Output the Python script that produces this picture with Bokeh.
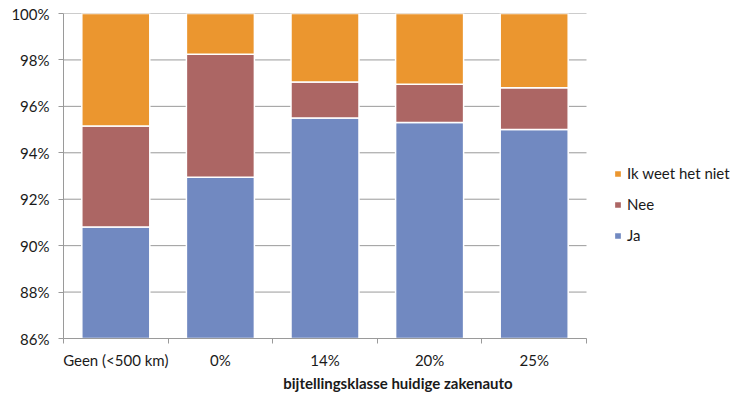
from bokeh.plotting import figure
from bokeh.models import (ColumnDataSource, FixedTicker, Legend, LegendItem,
                          PrintfTickFormatter, Range1d)
from bokeh.embed import file_html
from bokeh.resources import INLINE

# Share of answers per company-car tax class (percent)
categories = ["Geen (<500 km)", "0%", "14%", "20%", "25%"]
ja = [90.8, 92.95, 95.5, 95.3, 95.0]
nee = [4.35, 5.3, 1.55, 1.65, 1.8]
weet_niet = [4.85, 1.75, 2.95, 3.05, 3.2]
series_names = ["Ja", "Nee", "Ik weet het niet"]
y_ticks = [86, 88, 90, 92, 94, 96, 98, 100]

colors = ["#7189C1", "#AC6664", "#EB962F"]
GRID = "#9a9a9a"
FONT = "Lato"
FS = "15px"

n = len(categories)
centers = [i + 0.5 for i in range(n)]
source = ColumnDataSource(dict(x=centers, ja=ja, nee=nee, weet_niet=weet_niet))

# The frame runs to the right edge so the legend can sit beside the bars;
# the bars themselves occupy x in [0, n] (523 px of the 669 px frame).
LEFT, BOTTOM, TOP = 63, 54, 13
frame_w = 732 - LEFT
x_end = n * frame_w / 523.0

p = figure(width=732, height=394, output_backend="svg", toolbar_location=None,
           x_range=Range1d(0, x_end), y_range=Range1d(86, 100),
           min_border_left=LEFT, min_border_right=0, min_border_top=TOP,
           min_border_bottom=BOTTOM)
p.outline_line_color = None
p.background_fill_color = "white"
p.xgrid.visible = False
p.ygrid.visible = False

# horizontal gridlines only across the bar area
p.segment(x0=[0] * len(y_ticks), x1=[n] * len(y_ticks), y0=y_ticks, y1=y_ticks,
          line_color=GRID, line_width=1)

renderers = p.vbar_stack(["ja", "nee", "weet_niet"], x="x", width=0.65,
                         color=colors, line_color="white", line_width=1.5,
                         source=source)

# x axis: ticks between categories, labels at bar centres
xa = p.xaxis[0]
xa.bounds = (0, n)
xa.ticker = FixedTicker(ticks=centers, minor_ticks=list(range(n + 1)))
xa.major_label_overrides = {c: name for c, name in zip(centers, categories)}
xa.major_tick_line_color = None
xa.minor_tick_out = 5
xa.minor_tick_in = 0
xa.minor_tick_line_color = GRID
xa.axis_line_color = GRID
xa.major_label_text_font = FONT
xa.major_label_text_font_size = FS
xa.major_label_text_color = "#1a1a1a"
xa.major_label_standoff = 6
xa.axis_label = "bijtellingsklasse huidige zakenauto"
xa.axis_label_text_font = FONT
xa.axis_label_text_font_style = "bold"
xa.axis_label_text_font_size = FS
xa.axis_label_text_color = "#1a1a1a"
xa.axis_label_standoff = 2

ya = p.yaxis[0]
ya.ticker = FixedTicker(ticks=y_ticks)
ya.formatter = PrintfTickFormatter(format="%d%%")
ya.major_tick_out = 5
ya.major_tick_in = 0
ya.minor_tick_line_color = None
ya.major_tick_line_color = GRID
ya.axis_line_color = GRID
ya.major_label_text_font = FONT
ya.major_label_text_font_size = FS
ya.major_label_text_color = "#1a1a1a"
ya.major_label_standoff = 9

# legend to the right of the bars (offset from the frame's bottom-left)
items = [LegendItem(label=name, renderers=[r])
         for name, r in zip(series_names, renderers)][::-1]
legend = Legend(items=items, location=(550, 93), orientation="vertical",
                glyph_width=9, glyph_height=9, label_height=20, spacing=11,
                label_standoff=5, padding=0, margin=0,
                border_line_color=None, background_fill_alpha=0,
                label_text_font=FONT, label_text_font_size=FS,
                label_text_color="#1a1a1a")
p.add_layout(legend, "center")

open("out.html", "w").write(file_html(p, INLINE))
